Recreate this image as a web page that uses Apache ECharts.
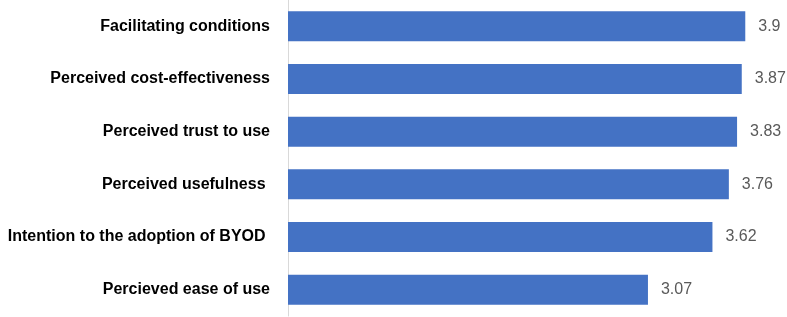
<!DOCTYPE html>
<html>
<head>
<meta charset="utf-8">
<script src="https://cdn.jsdelivr.net/npm/echarts@6/dist/echarts.min.js"></script>
<style>
  html, body { margin: 0; padding: 0; background: #fff; }
  #chart { width: 787px; height: 317px; }
</style>
</head>
<body>
<div id="chart"></div>
<script>
// categories from top to bottom, as in the picture
const categories = [
  "Facilitating conditions",
  "Perceived cost-effectiveness",
  "Perceived trust to use",
  "Perceived usefulness ",
  "Intention to the adoption of BYOD ",
  "Percieved ease of use"
];
const scores = [3.9, 3.87, 3.83, 3.76, 3.62, 3.07];

const myChart = echarts.init(document.getElementById("chart"));
const option = {
  animation: false,
  grid: {
    left: 288,
    right: 30,
    top: 0,
    bottom: 1
  },
  xAxis: {
    type: "value",
    min: 0,
    max: 4,
    show: false
  },
  yAxis: {
    type: "category",
    data: categories,
    inverse: true,
    axisTick: { show: false },
    axisLine: { show: true, lineStyle: { color: "#d9d9d9", width: 1 } },
    axisLabel: {
      margin: 18,
      color: "#000",
      fontWeight: "bold",
      fontSize: 16,
      fontFamily: "Liberation Sans"
    }
  },
  series: [
    {
      type: "bar",
      data: scores,
      barWidth: 30,
      itemStyle: { color: "#4472c4" },
      label: {
        show: true,
        position: "right",
        distance: 13,
        color: "#595959",
        fontSize: 16,
        fontFamily: "Liberation Sans"
      }
    }
  ]
};
myChart.setOption(option);
</script>
</body>
</html>
